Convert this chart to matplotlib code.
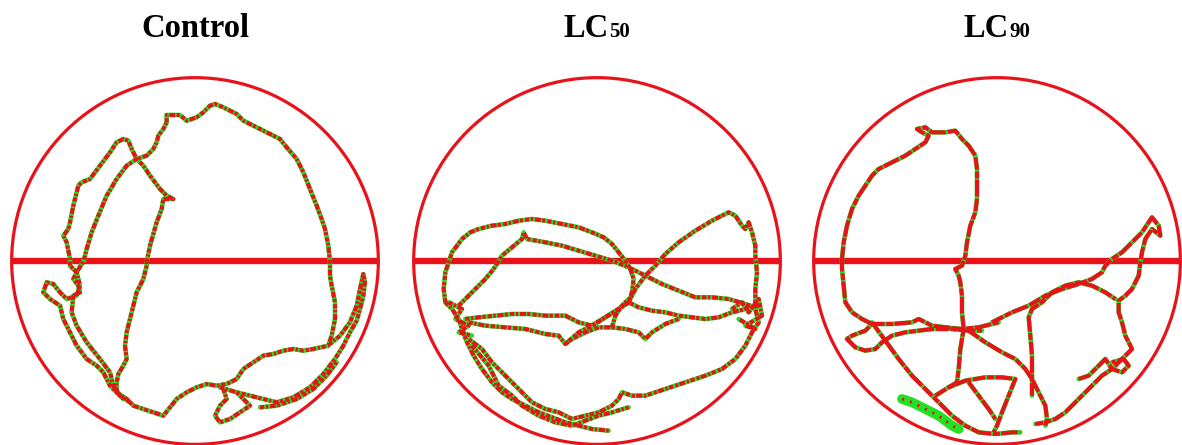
import matplotlib
matplotlib.use("Agg")
import matplotlib.pyplot as plt
from matplotlib.patches import Circle

plt.rcParams['font.family'] = ['Liberation Serif', 'DejaVu Serif']
plt.rcParams['lines.scale_dashes'] = False

# ---------------- data (arena coordinates, centre = 0,0, radius = 550) ----------------
ARENA_R = 550
titles = ["Control", "LC", "LC"]
title_subs = ["", "50", "90"]

control_outer_loop = [(-85,416),(-85,438),(-45,438),(-25,421),(5,431),(25,446),(45,466),(60,471),(85,461),
    (125,441),(145,421),(185,401),(225,381),(255,366),(275,341),(305,306),(325,266),(345,216),(365,166),
    (380,126),(390,96),(400,46),(405,-4),(405,-44),(410,-74),(420,-124),(420,-174),(410,-224),(400,-254),
    (355,-264),(325,-269),(295,-264),(265,-269),(235,-279),(205,-284),(175,-304),(145,-324),(125,-354),
    (95,-369),(65,-374),(35,-369),(5,-379),(-25,-394),(-55,-414),(-75,-439),(-95,-464),(-125,-454),
    (-155,-444),(-185,-434),(-205,-414),(-235,-394),(-255,-374),(-275,-334),(-295,-314),(-325,-294),
    (-355,-254),(-375,-214),(-395,-174),(-405,-134),(-435,-114),(-455,-94),(-445,-64),(-425,-69),
    (-405,-94),(-385,-114),(-355,-104),(-345,-74),(-355,-34),(-375,-14)]
control_left_loop = [(-375,-14),(-375,6),(-385,56),(-395,76),(-380,96),(-375,116),(-365,166),(-355,206),
    (-350,226),(-340,236),(-315,246),(-285,286),(-255,326),(-235,356),(-215,366),(-200,361),(-190,336),
    (-175,306),(-155,286),(-135,256),(-105,216),(-85,196),(-65,186),(-95,186),(-100,156),(-115,116),
    (-135,46),(-145,-4),(-145,-14),(-155,-54),(-175,-94),(-185,-134),(-195,-174),(-205,-214),(-210,-254),
    (-205,-294),(-215,-314),(-230,-339),(-235,-364),(-235,-394),(-215,-414)]
control_inner_left = [(-365,-104),(-345,-94),(-350,-74),(-365,-54),(-355,-34),(-340,-9),(-335,-4),(-325,36),
    (-310,86),(-290,136),(-265,196),(-235,246),(-205,286),(-175,306),(-145,316),(-125,336),(-115,356),
    (-110,376),(-95,396),(-85,416)]
control_bottom_left = [(-365,-104),(-370,-154),(-355,-194),(-325,-244),(-285,-294),(-255,-334),(-245,-374),
    (-225,-404),(-195,-424)]
control_loop_lower = [(75,-379),(125,-394),(165,-404),(205,-414),(245,-424),(295,-409),(345,-379),(385,-339),
    (420,-294),(445,-254),(465,-214),(485,-179),(495,-144),(505,-104),(510,-64),(505,-39),(495,-84),
    (485,-134),(465,-184),(435,-224),(405,-249)]
control_loop_outer = [(195,-439),(245,-434),(305,-414),(355,-384),(395,-344),(425,-304)]
control_small_loop = [(85,-384),(95,-414),(75,-434),(60,-464),(75,-484),(105,-474),(135,-454),(165,-434),
    (145,-414),(125,-394)]

lc50_upper_arc = [(-455,-124),(-460,-84),(-455,-34),(-435,26),(-405,66),(-380,86),(-355,96),(-315,106),
    (-275,111),(-235,121),(-195,126),(-155,121),(-105,111),(-55,101),(-15,86),(20,71),(45,51),(65,26),
    (85,1),(100,-24),(110,-54),(105,-94),(95,-124),(65,-144),(25,-169),(-15,-194),(-55,-214),(-95,-249)]
lc50_left_bottom = [(-455,-124),(-435,-144),(-415,-174),(-405,-204),(-390,-244),(-370,-284),(-345,-324),
    (-315,-364),(-285,-394),(-255,-414),(-215,-434),(-175,-454),(-135,-469),(-95,-484),(-55,-494),
    (-15,-504),(35,-509)]
lc50_second_arc = [(-415,-134),(-395,-114),(-365,-84),(-335,-54),(-310,-24),(-285,16),(-255,41),(-225,66),
    (-220,86),(-210,66),(-155,56),(-105,46),(-55,31),(-5,16),(45,1),(95,-19),(145,-44),(195,-69),
    (245,-89),(295,-109),(345,-109),(395,-114),(445,-129),(475,-139)]
lc50_right_peak = [(95,-124),(115,-84),(145,-44),(175,-14),(205,21),(245,56),(295,91),(345,121),(395,146),
    (415,136),(435,106),(445,96),(455,116),(465,86),(475,46),(475,16),(480,-34),(475,-84),(475,-124),
    (475,-144),(485,-184),(465,-214),(445,-254),(415,-294),(375,-324),(325,-344),(265,-364),(205,-384),
    (145,-404),(105,-404),(75,-394),(65,-414),(45,-434),(5,-454),(-35,-464),(-75,-474),(-115,-454),
    (-155,-444),(-195,-424),(-225,-394),(-255,-364),(-285,-334),(-315,-304),(-345,-264),(-385,-234)]
lc50_middle_upper = [(-395,-174),(-355,-169),(-305,-164),(-255,-159),(-205,-159),(-155,-164),(-95,-164),
    (-55,-184),(-15,-194),(25,-169),(65,-144),(95,-124),(125,-139),(165,-149),(205,-154),(245,-164),
    (285,-169),(325,-174),(365,-169),(405,-154),(445,-144),(485,-134)]
lc50_middle_lower = [(-385,-184),(-335,-194),(-275,-199),(-215,-204),(-155,-219),(-115,-224),(-95,-249),
    (-75,-234),(-35,-214),(5,-199),(45,-199),(85,-204),(125,-214),(145,-234),(165,-214),(205,-189),
    (245,-174)]
lc50_cross = [(45,-199),(55,-164),(75,-134),(95,-114)]
lc50_bottom_inner = [(-375,-254),(-325,-314),(-295,-374),(-255,-404),(-225,-434),(-175,-464),(-125,-484),
    (-75,-494),(-35,-479),(5,-464),(45,-454),(95,-439)]
lc50_right_cluster = [(405,-144),(435,-124),(455,-154),(485,-114),(495,-164),(445,-194),(475,-204),(425,-174)]
lc50_left_cluster = [(-445,-124),(-405,-144),(-425,-174),(-385,-194),(-415,-214),(-375,-224)]

lc90_left_arc = [(-465,6),(-460,56),(-450,106),(-435,156),(-415,196),(-395,226),(-375,256),(-355,276),
    (-315,296),(-275,316),(-245,336),(-215,356),(-205,376),(-225,386),(-240,396),(-215,401),(-195,386),
    (-155,386),(-125,391),(-105,366),(-85,346),(-65,316),(-60,276),(-60,236),(-60,186),(-65,146),
    (-80,106),(-90,56),(-95,16),(-105,-14),(-125,-24),(-115,-44),(-110,-64),(-105,-104),(-105,-154),
    (-100,-204),(-110,-264),(-115,-324),(-120,-364),(-145,-379)]
lc90_left_lower = [(-465,6),(-465,-24),(-460,-74),(-455,-124),(-435,-154),(-405,-174),(-375,-189),
    (-395,-209),(-435,-224),(-450,-234),(-425,-259),(-395,-269),(-365,-264),(-345,-244),(-315,-224),
    (-275,-214),(-235,-209),(-195,-204),(-135,-204),(-85,-209),(-45,-209)]
lc90_horizontal = [(-375,-189),(-315,-189),(-255,-184),(-235,-174),(-195,-194),(-155,-199),(-105,-204),
    (-55,-199),(-15,-189),(5,-184)]
lc90_diag_left = [(-375,-184),(-335,-239),(-295,-294),(-255,-344),(-215,-384),(-175,-424),(-135,-464),
    (-95,-494),(-55,-514)]
lc90_long = [(-15,-184),(45,-154),(95,-134),(145,-104),(195,-84),(245,-69),(285,-54),(315,-34),(325,-14),
    (345,6),(375,26),(405,56),(435,86),(455,116),(465,131),(485,106),(490,76),(465,96),(445,66),(435,26),
    (430,-4),(425,-44),(420,-54),(405,-84),(385,-104),(365,-119),(365,-154),(375,-184),(385,-224),
    (405,-264),(385,-284),(365,-304),(345,-324),(315,-344),(295,-364),(275,-384),(255,-404),(235,-424),
    (205,-454),(175,-474),(145,-484),(115,-489)]
lc90_right_loop = [(105,-404),(105,-344),(105,-284),(100,-224),(95,-169),(105,-144),(135,-124),(165,-94),
    (205,-74),(245,-64),(285,-74),(325,-94),(355,-114)]
lc90_diag_mid = [(-85,-209),(-35,-244),(15,-274),(55,-294),(85,-324),(105,-354),(125,-394),(145,-434),
    (150,-474),(145,-494)]
lc90_bottom_arc = [(-185,-404),(-145,-379),(-95,-359),(-35,-349),(15,-349),(55,-354),(35,-404),(15,-454),
    (0,-494),(-10,-514)]
lc90_inner_diag = [(-85,-364),(-55,-404),(-25,-444),(-5,-474)]
lc90_bottom = [(-55,-514),(-5,-519),(45,-514),(70,-514)]
lc90_right_cluster = [(245,-354),(275,-344),(305,-314),(325,-294),(345,-324),(375,-334),(395,-314),
    (380,-294),(345,-304)]
lc90_green_blob = [(-285,-414),(-255,-424),(-215,-444),(-175,-464),(-135,-494),(-115,-504)]

control_tracks = [control_outer_loop, control_left_loop, control_inner_left, control_bottom_left,
                  control_loop_lower, control_loop_outer, control_small_loop]
lc50_tracks = [lc50_upper_arc, lc50_left_bottom, lc50_second_arc, lc50_right_peak, lc50_middle_upper,
               lc50_middle_lower, lc50_cross, lc50_bottom_inner, lc50_right_cluster, lc50_left_cluster]
lc90_tracks = [lc90_left_arc, lc90_left_lower, lc90_horizontal, lc90_diag_left, lc90_long,
               lc90_right_loop, lc90_diag_mid, lc90_bottom_arc, lc90_inner_diag, lc90_bottom,
               lc90_right_cluster]
lc90_green_tracks = [lc90_green_blob]

# ---------------- styling / layout ----------------
RED = '#e8121a'
GREEN = '#22e022'
W, H, DPI = 1182, 445, 100
centers_px = [195, 597, 997]       # arena centre x in pixels
center_py = 261                     # arena centre y in pixels
UNITS_PER_PX = 3.0

fig = plt.figure(figsize=(W / DPI, H / DPI), dpi=DPI)
fig.patch.set_facecolor('white')

dash_dense = (3.0, 1.2, 1.6, 1.4, 4.2, 1.0, 2.2, 1.6)
dash_sparse = (9.0, 1.3, 5.0, 1.0, 12.0, 1.5)
arena_sets = [(control_tracks, [], dash_dense),
              (lc50_tracks, [], dash_dense),
              (lc90_tracks, lc90_green_tracks, dash_sparse)]

half_w_px = 200
for i, (cx, (tracks, gtracks, dash)) in enumerate(zip(centers_px, arena_sets)):
    ax = fig.add_axes([(cx - half_w_px) / W, 0, 2 * half_w_px / W, 1])
    ax.set_xlim(-half_w_px * UNITS_PER_PX, half_w_px * UNITS_PER_PX)
    ax.set_ylim(-(H - center_py) * UNITS_PER_PX, center_py * UNITS_PER_PX)
    ax.axis('off')
    ax.patch.set_alpha(0)

    ax.add_patch(Circle((0, 0), ARENA_R, fill=False, ec=RED, lw=2.3, zorder=1))
    ax.plot([-ARENA_R, ARENA_R], [0, 0], color=RED, lw=4.6, solid_capstyle='butt', zorder=1)

    for tr in tracks:
        xs = [p[0] for p in tr]
        ys = [p[1] for p in tr]
        ax.plot(xs, ys, color=GREEN, lw=3.3, solid_joinstyle='round', solid_capstyle='round', zorder=2)
        ln, = ax.plot(xs, ys, color=RED, lw=2.9, zorder=3, dash_joinstyle='round', dash_capstyle='butt')
        ln.set_dashes(dash)
    for tr in gtracks:
        xs = [p[0] for p in tr]
        ys = [p[1] for p in tr]
        ax.plot(xs, ys, color=GREEN, lw=7.0, solid_capstyle='round', zorder=2)
        ln, = ax.plot(xs, ys, color=RED, lw=2.0, zorder=3)
        ln.set_dashes((1.5, 4.5))

    base_y = (center_py - 37) * UNITS_PER_PX
    if title_subs[i] == "":
        ax.text(0, base_y, titles[i], ha='center', va='baseline', fontsize=23.5, fontweight='bold')
    else:
        t1 = ax.text(0, base_y, titles[i], ha='left', va='baseline', fontsize=23.5, fontweight='bold')
        t2 = ax.text(0, base_y, title_subs[i], ha='left', va='baseline', fontsize=15, fontweight='bold')
        r = fig.canvas.get_renderer()
        w1 = t1.get_window_extent(r).width * UNITS_PER_PX
        w2 = t2.get_window_extent(r).width * UNITS_PER_PX
        x0 = -(w1 + w2) / 2
        t1.set_x(x0)
        t2.set_x(x0 + w1)

fig.savefig('out.png', dpi=DPI, facecolor='white')
